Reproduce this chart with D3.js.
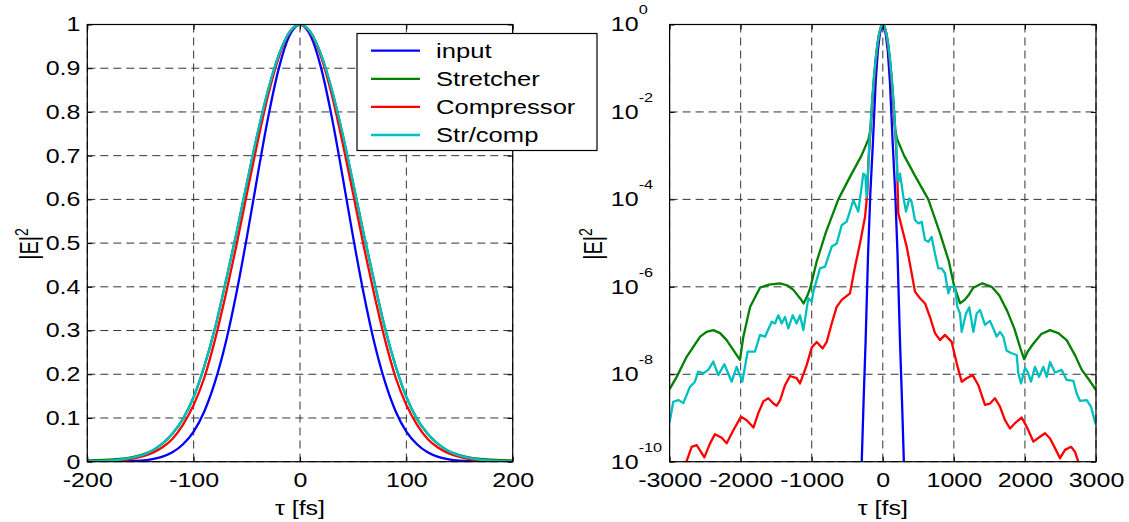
<!DOCTYPE html>
<html>
<head>
  <meta charset="utf-8">
  <title>Pulse intensity: stretcher / compressor</title>
  <script src="https://cdn.jsdelivr.net/npm/d3@7"></script>
  <style>
    body { margin: 0; background: #fff; }
    svg { display: block; font-family: "Liberation Sans", Arial, sans-serif; }
  </style>
</head>
<body>
<div id="container"></div>
<script>
  // series
  const seriesNames = ["input", "Stretcher", "Compressor", "Str/comp"];
  const seriesColors = ["#0000ff", "#008000", "#ff0000", "#00bfbf"];

  // left panel: linear |E|^2 vs tau (fs)
  const linTimes = [-200, -190, -180, -170, -160, -150, -140, -130, -120, -110, -100, -90, -80, -70, -60, -50, -40, -30, -20, -10, 0,
    10, 20, 30, 40, 50, 60, 70, 80, 90, 100, 110, 120, 130, 140, 150, 160, 170, 180, 190, 200];
  const linInput = [0, 0.0001, 0.0002, 0.0004, 0.0011, 0.0025, 0.0054, 0.011, 0.0215, 0.04, 0.069, 0.115, 0.182, 0.271, 0.383, 0.513, 0.653, 0.787, 0.899, 0.974, 1,
    0.974, 0.899, 0.787, 0.653, 0.513, 0.383, 0.271, 0.182, 0.115, 0.069, 0.04, 0.0215, 0.011, 0.0054, 0.0025, 0.0011, 0.0004, 0.0002, 0.0001, 0];
  const linStretcher = [0.003, 0.0035, 0.0045, 0.0062, 0.0095, 0.015, 0.024, 0.04, 0.064, 0.098, 0.148, 0.218, 0.305, 0.41, 0.52, 0.637, 0.75, 0.85, 0.93, 0.982, 1,
    0.982, 0.93, 0.85, 0.75, 0.637, 0.52, 0.41, 0.305, 0.218, 0.148, 0.098, 0.064, 0.04, 0.024, 0.015, 0.0095, 0.0062, 0.0045, 0.0035, 0.003];
  const linCompressor = [0.0004, 0.0009, 0.0017, 0.0032, 0.006, 0.011, 0.019, 0.032, 0.052, 0.085, 0.13, 0.192, 0.278, 0.38, 0.492, 0.612, 0.73, 0.838, 0.925, 0.981, 1,
    0.981, 0.925, 0.838, 0.73, 0.612, 0.492, 0.38, 0.278, 0.192, 0.13, 0.085, 0.052, 0.032, 0.019, 0.011, 0.006, 0.0032, 0.0017, 0.0009, 0.0004];
  const linStrComp = [0.0008, 0.0013, 0.0024, 0.0045, 0.008, 0.014, 0.024, 0.04, 0.064, 0.098, 0.148, 0.218, 0.305, 0.41, 0.52, 0.637, 0.75, 0.85, 0.93, 0.982, 1,
    0.982, 0.93, 0.85, 0.75, 0.637, 0.52, 0.41, 0.305, 0.218, 0.148, 0.098, 0.064, 0.04, 0.024, 0.014, 0.008, 0.0045, 0.0024, 0.0013, 0.0008];

  const linXTicks = [-200, -100, 0, 100, 200];
  const linYTicks = [0, 0.1, 0.2, 0.3, 0.4, 0.5, 0.6, 0.7, 0.8, 0.9, 1];

  // right panel: [tau (fs), log10 |E|^2]
  const logInput = [[-300, -10.2], [-270, -8.6], [-242, -7.25], [-207, -5.24], [-175, -3.85], [-139, -2.7], [-100, -1.3], [-70, -0.6], [-40, -0.2], [0, 0],
    [40, -0.2], [70, -0.6], [100, -1.3], [139, -2.7], [175, -3.85], [207, -5.24], [242, -7.25], [270, -8.6], [300, -10.2]];
  const logStretcher = [[-3000, -8.34], [-2900, -8.06], [-2760, -7.6], [-2570, -7.14], [-2480, -7.03], [-2385, -6.99], [-2290, -7.06], [-2197, -7.22],
    [-2103, -7.45], [-2010, -7.67], [-1962, -7.14], [-1868, -6.46], [-1728, -6.02], [-1600, -5.95], [-1446, -5.92], [-1340, -5.97], [-1259, -6.07],
    [-1165, -6.26], [-1115, -6.38], [-1060, -6.2], [-1020, -6.02], [-930, -5.42], [-800, -4.75], [-626, -4.0], [-460, -3.48], [-300, -3.0],
    [-200, -2.62], [-175, -2.4], [-150, -1.76], [-125, -1.22], [-100, -0.78], [-75, -0.44], [-50, -0.2], [-25, -0.05], [0, 0],
    [25, -0.05], [50, -0.2], [75, -0.44], [100, -0.78], [125, -1.22], [150, -1.76], [175, -2.4], [200, -2.62], [300, -3.0], [460, -3.48],
    [640, -4.0], [800, -4.75], [930, -5.42], [1000, -5.95], [1040, -6.15], [1088, -6.38], [1150, -6.3], [1203, -6.2], [1274, -6.02], [1400, -5.92],
    [1532, -6.0], [1640, -6.2], [1750, -6.55], [1850, -6.95], [1935, -7.4], [1990, -7.66], [2040, -7.48], [2118, -7.3], [2230, -7.08], [2353, -6.99],
    [2470, -7.06], [2587, -7.22], [2700, -7.55], [2800, -7.9], [2900, -8.12], [3000, -8.36]];
  const logCompressor = [[-2774, -10.05], [-2690, -9.66], [-2619, -9.62], [-2550, -9.8], [-2511, -9.9], [-2431, -9.58], [-2361, -9.37], [-2267, -9.45],
    [-2197, -9.58], [-2103, -9.28], [-1995, -8.97], [-1915, -9.05], [-1820, -9.22], [-1752, -8.89], [-1681, -8.62], [-1611, -8.55], [-1540, -8.67],
    [-1493, -8.72], [-1446, -8.6], [-1376, -8.25], [-1306, -8.04], [-1212, -8.09], [-1165, -8.21], [-1071, -7.79], [-1000, -7.39], [-930, -7.26],
    [-846, -7.41], [-789, -7.26], [-719, -6.84], [-649, -6.46], [-578, -6.3], [-462, -6.15], [-391, -5.54], [-321, -5.01], [-250, -4.4],
    [-218, -3.86], [-204, -3.18], [-180, -2.6], [-150, -1.91], [-125, -1.33], [-100, -0.85], [-75, -0.48], [-50, -0.21], [-25, -0.05], [0, 0],
    [25, -0.05], [50, -0.21], [75, -0.48], [100, -0.85], [125, -1.33], [150, -1.91], [180, -2.6], [200, -3.2], [218, -4.32], [266, -4.63],
    [336, -5.08], [406, -5.69], [453, -6.11], [523, -6.26], [594, -6.38], [664, -6.69], [734, -7.06], [805, -7.22], [875, -7.1], [969, -7.26],
    [1040, -7.75], [1110, -8.17], [1180, -8.09], [1265, -8.02], [1344, -8.25], [1438, -8.7], [1508, -8.67], [1579, -8.55], [1649, -8.74],
    [1719, -9.05], [1790, -9.24], [1860, -9.12], [1954, -8.99], [2025, -9.2], [2118, -9.54], [2212, -9.43], [2283, -9.35], [2353, -9.47],
    [2423, -9.69], [2494, -9.92], [2564, -9.73], [2648, -9.66], [2704, -9.77], [2760, -10.05]];
  const logStrComp = [[-3000, -9.1], [-2948, -8.63], [-2878, -8.59], [-2807, -8.66], [-2714, -8.29], [-2644, -8.17], [-2597, -7.94], [-2526, -7.98],
    [-2456, -7.9], [-2385, -7.71], [-2315, -8.02], [-2230, -7.77], [-2126, -8.17], [-2056, -7.83], [-1977, -8.17], [-1901, -7.48], [-1798, -7.48],
    [-1728, -7.1], [-1657, -7.14], [-1563, -6.8], [-1517, -6.84], [-1470, -6.65], [-1423, -6.84], [-1376, -6.69], [-1329, -6.95], [-1268, -6.65],
    [-1212, -6.84], [-1165, -6.65], [-1118, -6.99], [-1048, -6.26], [-1000, -6.34], [-977, -6.11], [-884, -5.58], [-813, -5.54], [-719, -5.08],
    [-649, -5.01], [-578, -4.59], [-508, -4.51], [-415, -4.02], [-345, -4.28], [-274, -3.41], [-245, -3.45], [-228, -3.95], [-205, -3.3],
    [-190, -2.75], [-175, -2.4], [-150, -1.76], [-125, -1.22], [-100, -0.78], [-75, -0.44], [-50, -0.2], [-25, -0.05], [0, 0],
    [25, -0.05], [50, -0.2], [75, -0.44], [100, -0.78], [125, -1.22], [150, -1.76], [175, -2.4], [190, -2.75], [205, -3.5], [222, -3.6],
    [242, -3.41], [289, -3.94], [326, -4.28], [373, -3.98], [406, -4.06], [453, -4.47], [500, -4.55], [547, -4.51], [594, -4.93], [640, -4.97],
    [687, -4.86], [734, -5.24], [781, -5.58], [828, -5.58], [875, -5.69], [922, -6.15], [955, -6.0], [1016, -6.0], [1049, -6.46], [1086, -6.61],
    [1110, -7.03], [1171, -6.61], [1217, -6.47], [1274, -7.03], [1321, -6.61], [1368, -6.53], [1438, -6.87], [1508, -6.78], [1555, -6.95],
    [1602, -7.14], [1649, -7.03], [1696, -7.14], [1743, -7.46], [1813, -7.52], [1884, -7.56], [1907, -7.98], [1945, -8.21], [2001, -7.86],
    [2040, -7.95], [2085, -8.17], [2142, -7.83], [2198, -8.06], [2259, -7.83], [2306, -8.06], [2353, -7.72], [2423, -7.96], [2517, -7.9],
    [2587, -8.13], [2681, -8.15], [2728, -8.44], [2775, -8.61], [2869, -8.59], [2929, -8.74], [2986, -9.09], [3000, -9.15]];

  const logXTicks = [-3000, -2000, -1000, 0, 1000, 2000, 3000];
  const logYTicks = [1, 1e-2, 1e-4, 1e-6, 1e-8, 1e-10];

  // layout
  const vizWidth = 1129;
  const vizHeight = 522;
  const plotTop = 24.5;
  const plotBottom = 461.7;
  const fontSize = 20;
  const stretch = 1.25; // glyphs in the reference are wider than they are tall
  const tickLen = 5;
  const lineWidth = 2.3;

  const svg = d3.select("#container")
    .append("svg")
    .attr("width", vizWidth)
    .attr("height", vizHeight);

  svg.append("rect").attr("width", vizWidth).attr("height", vizHeight).attr("fill", "#fff");

  function drawPanel(p) {
    const { id, left, right, x, y, xTicks, yTicks, series, lineY, curve, logLabels, ylabelX } = p;
    const g = svg.append("g");

    // grid
    g.append("g").selectAll("line")
      .data(xTicks)
      .join("line")
      .attr("x1", d => x(d)).attr("x2", d => x(d))
      .attr("y1", plotTop).attr("y2", plotBottom)
      .attr("stroke", "#333").attr("stroke-width", 1).attr("stroke-dasharray", "8,5");
    g.append("g").selectAll("line")
      .data(yTicks)
      .join("line")
      .attr("x1", left).attr("x2", right)
      .attr("y1", d => y(d)).attr("y2", d => y(d))
      .attr("stroke", "#333").attr("stroke-width", 1).attr("stroke-dasharray", "8,5");

    // curves
    svg.append("clipPath").attr("id", id)
      .append("rect")
      .attr("x", left).attr("y", plotTop)
      .attr("width", right - left).attr("height", plotBottom - plotTop);

    const line = d3.line().x(d => x(d[0])).y(d => y(lineY(d[1]))).curve(curve);
    g.append("g").attr("clip-path", `url(#${id})`)
      .selectAll("path")
      .data(series)
      .join("path")
      .attr("d", d => line(d))
      .attr("fill", "none")
      .attr("stroke", (d, i) => seriesColors[i])
      .attr("stroke-width", lineWidth)
      .attr("stroke-linejoin", "round");

    // axes, ticks inside on all four sides
    const styleAxis = sel => {
      sel.select(".domain").remove();
      sel.selectAll(".tick line").attr("stroke", "#000");
      sel.attr("font-size", fontSize).attr("font-family", "'Liberation Sans', Arial, sans-serif");
      sel.selectAll(".tick text").attr("fill", "#000").attr("transform", `scale(${stretch},1)`);
    };

    g.append("g")
      .attr("transform", `translate(0,${plotBottom})`)
      .call(d3.axisBottom(x).tickValues(xTicks).tickSizeInner(-tickLen).tickSizeOuter(0).tickPadding(11).tickFormat(d => String(d)))
      .call(styleAxis);
    g.append("g")
      .attr("transform", `translate(0,${plotTop})`)
      .call(d3.axisTop(x).tickValues(xTicks).tickSizeInner(-tickLen).tickSizeOuter(0).tickFormat(""))
      .call(styleAxis);
    g.append("g")
      .attr("transform", `translate(${right},0)`)
      .call(d3.axisRight(y).tickValues(yTicks).tickSizeInner(-tickLen).tickSizeOuter(0).tickFormat(""))
      .call(styleAxis);

    const yAxis = g.append("g")
      .attr("transform", `translate(${left},0)`)
      .call(d3.axisLeft(y).tickValues(yTicks).tickSizeInner(-tickLen).tickSizeOuter(0).tickPadding(5.5)
        .tickFormat(logLabels ? () => "" : d => String(d)))
      .call(styleAxis);

    if (logLabels) {
      yAxis.selectAll(".tick text").each(function (d) {
        const t = d3.select(this).attr("text-anchor", "start").attr("x", -47);
        t.append("tspan").text("10");
        t.append("tspan").attr("dy", -17).attr("font-size", 13).text(String(Math.round(Math.log10(d))));
      });
    }

    // box
    g.append("rect")
      .attr("x", left).attr("y", plotTop)
      .attr("width", right - left).attr("height", plotBottom - plotTop)
      .attr("fill", "none").attr("stroke", "#000").attr("stroke-width", 1.2);

    // axis titles
    g.append("text")
      .attr("transform", `translate(${(left + right) / 2},515) scale(${stretch},1)`)
      .attr("text-anchor", "middle")
      .attr("font-size", fontSize)
      .text("\u03c4 [fs]");

    const ylab = g.append("text")
      .attr("transform", `translate(${ylabelX},244) scale(${stretch},1) rotate(-90)`)
      .attr("text-anchor", "middle")
      .attr("font-size", fontSize);
    ylab.append("tspan").text("|E|");
    ylab.append("tspan").attr("dy", -8).attr("font-size", 14).text("2");
  }

  // left panel
  const xLin = d3.scaleLinear().domain([-200, 200]).range([87.3, 512.7]);
  const yLin = d3.scaleLinear().domain([0, 1]).range([plotBottom, plotTop]);
  const linSeries = [linInput, linStretcher, linCompressor, linStrComp]
    .map(vals => linTimes.map((t, i) => [t, vals[i]]));
  drawPanel({
    id: "clipLin", left: 87.3, right: 512.7, x: xLin, y: yLin,
    xTicks: linXTicks, yTicks: linYTicks, series: linSeries,
    lineY: v => v, curve: d3.curveMonotoneX, logLabels: false, ylabelX: 37.5
  });

  // right panel
  const xLog = d3.scaleLinear().domain([-3000, 3000]).range([669.6, 1096]);
  const yLog = d3.scaleLog().domain([1e-10, 1]).range([plotBottom, plotTop]);
  const logSeries = [logInput, logStretcher, logCompressor, logStrComp];
  drawPanel({
    id: "clipLog", left: 669.6, right: 1096, x: xLog, y: yLog,
    xTicks: logXTicks, yTicks: logYTicks, series: logSeries,
    lineY: e => Math.pow(10, e), curve: d3.curveLinear, logLabels: true, ylabelX: 602
  });

  // legend
  const legend = svg.append("g");
  legend.append("rect")
    .attr("x", 357).attr("y", 33.5)
    .attr("width", 240).attr("height", 117)
    .attr("fill", "#fff").attr("stroke", "#000").attr("stroke-width", 1.2);
  const rowY = d3.scaleLinear().domain([0, 3]).range([50.7, 135]);
  const rows = legend.selectAll("g.row")
    .data(seriesNames)
    .join("g")
    .attr("class", "row")
    .attr("transform", (d, i) => `translate(0,${rowY(i)})`);
  rows.append("line")
    .attr("x1", 371).attr("x2", 420)
    .attr("stroke", (d, i) => seriesColors[i])
    .attr("stroke-width", lineWidth);
  rows.append("text")
    .attr("transform", `translate(436,0) scale(1.28,1)`)
    .attr("dy", "0.36em")
    .attr("font-size", fontSize)
    .text(d => d);
</script>
</body>
</html>
